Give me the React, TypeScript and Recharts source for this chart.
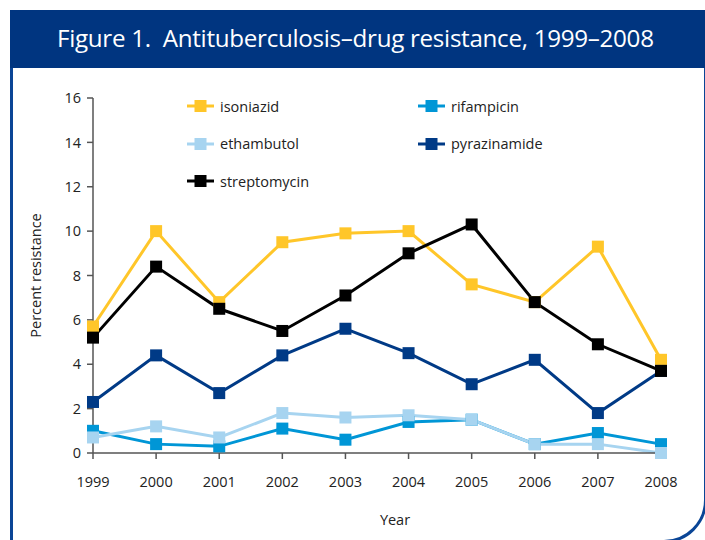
import React from "react";
import { LineChart, Line, XAxis, YAxis } from "recharts";

const years = ["1999", "2000", "2001", "2002", "2003", "2004", "2005", "2006", "2007", "2008"];
const isoniazid = [5.7, 10.0, 6.8, 9.5, 9.9, 10.0, 7.6, 6.8, 9.3, 4.2];
const rifampicin = [1.0, 0.4, 0.3, 1.1, 0.6, 1.4, 1.5, 0.4, 0.9, 0.4];
const ethambutol = [0.7, 1.2, 0.7, 1.8, 1.6, 1.7, 1.5, 0.4, 0.4, 0.0];
const pyrazinamide = [2.3, 4.4, 2.7, 4.4, 5.6, 4.5, 3.1, 4.2, 1.8, 3.7];
const streptomycin = [5.2, 8.4, 6.5, 5.5, 7.1, 9.0, 10.3, 6.8, 4.9, 3.7];
const yTicks = [0, 2, 4, 6, 8, 10, 12, 14, 16];

const seriesDefs = [
  { key: "isoniazid", values: isoniazid, color: "#FFC629" },
  { key: "rifampicin", values: rifampicin, color: "#0096D6" },
  { key: "ethambutol", values: ethambutol, color: "#A7D4F0" },
  { key: "pyrazinamide", values: pyrazinamide, color: "#003A86" },
  { key: "streptomycin", values: streptomycin, color: "#000000" },
];

const data = years.map((y, i) => {
  const row: any = { year: y };
  seriesDefs.forEach((s) => (row[s.key] = s.values[i]));
  return row;
});

const FONT = "'Open Sans', sans-serif";

const squareDot = (color: string) => (props: any) => {
  const { cx, cy, index } = props;
  if (cx == null || cy == null) return <g key={index} />;
  return <rect key={index} x={cx - 6} y={cy - 6} width={12} height={12} fill={color} />;
};

const ChartLegend = () => (
  <div style={{ position: "absolute", left: 187, top: 96, width: 420, height: 110 }}>
    {seriesDefs.map((s, i) => {
      const col = i % 2;
      const row = Math.floor(i / 2);
      return (
        <div
          key={s.key}
          style={{
            position: "absolute",
            left: col * 231,
            top: row * 37.5,
            display: "flex",
            alignItems: "center",
            height: 20,
          }}
        >
          <svg width={27} height={14}>
            <line x1={0} y1={7} x2={27} y2={7} stroke={s.color} strokeWidth={3} />
            <rect x={7.5} y={1} width={12} height={12} fill={s.color} />
          </svg>
          <span style={{ marginLeft: 6, fontFamily: FONT, fontSize: 14.5, color: "#222" }}>{s.key}</span>
        </div>
      );
    })}
  </div>
);

export default function App() {
  return (
    <div style={{ position: "absolute", left: 0, top: 0, width: 705, height: 540, overflow: "hidden", background: "#fff" }}>
      <div
        style={{
          position: "absolute",
          left: 10,
          top: 60,
          width: 691,
          height: 477,
          border: "3px solid #0A4596",
          borderBottomRightRadius: 43,
        }}
      />
      <div
        style={{
          position: "absolute",
          left: 10,
          top: 10,
          width: 695,
          height: 58,
          background: "#003580",
          color: "#fff",
          fontFamily: FONT,
          fontSize: 24.2,
          lineHeight: "56px",
          boxSizing: "border-box",
          paddingLeft: 47,
          whiteSpace: "pre",
          letterSpacing: -0.3,
        }}
      >
        {"Figure 1.  Antituberculosis\u2013drug resistance, 1999\u20132008"}
      </div>
      <div style={{ position: "absolute", left: 0, top: 0 }}>
        <LineChart width={705} height={540} data={data} margin={{ top: 98, right: 44, left: 0, bottom: 57 }}>
          <XAxis
            dataKey="year"
            axisLine={{ stroke: "#555", strokeWidth: 1.5 }}
            tickLine={{ stroke: "#555", strokeWidth: 1.5 }}
            tickSize={6}
            tick={{ fill: "#222", fontSize: 14.5, fontFamily: FONT }}
            tickMargin={18}
            height={30}
            interval={0}
            label={{ value: "Year", position: "insideBottom", offset: -42, dx: 18, fill: "#222", fontSize: 14.5, fontFamily: FONT }}
          />
          <YAxis
            domain={[0, 16]}
            ticks={yTicks}
            width={93}
            axisLine={{ stroke: "#555", strokeWidth: 1.5 }}
            tickLine={{ stroke: "#555", strokeWidth: 1.5 }}
            tickSize={6}
            tickMargin={6}
            tick={{ fill: "#222", fontSize: 14.5, fontFamily: FONT }}
            label={{
              value: "Percent resistance",
              angle: -90,
              position: "insideLeft",
              offset: 36,
              style: { textAnchor: "middle" },
              fill: "#222",
              fontSize: 14.5,
              fontFamily: FONT,
            }}
          />
          {seriesDefs.map((s) => (
            <Line
              key={s.key}
              dataKey={s.key}
              name={s.key}
              stroke={s.color}
              strokeWidth={3}
              dot={squareDot(s.color)}
              activeDot={false}
              isAnimationActive={false}
            />
          ))}
        </LineChart>
      </div>
      <ChartLegend />
    </div>
  );
}
